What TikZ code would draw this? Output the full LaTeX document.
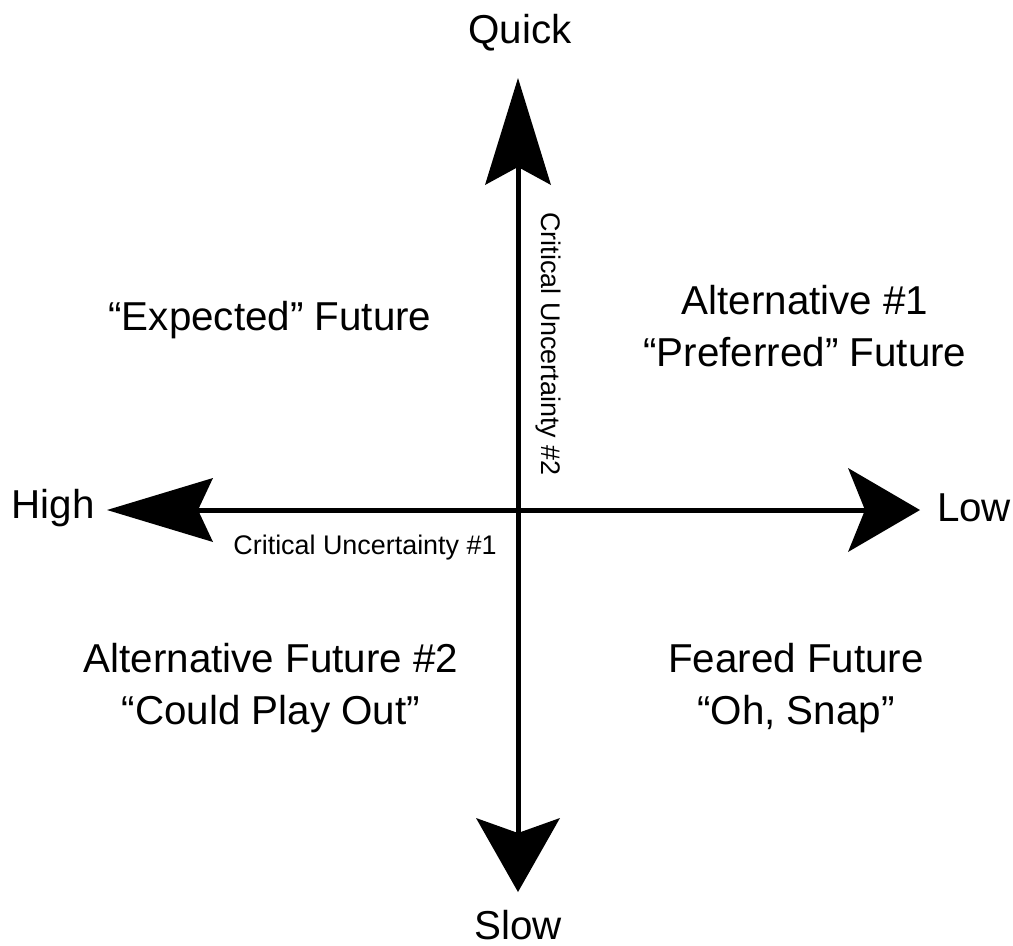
\documentclass[tikz,border=0pt]{standalone}
\usepackage{fontspec}
\setmainfont{Liberation Sans}
\usetikzlibrary{arrows.meta}
\begin{document}
\begin{tikzpicture}[x=1bp,y=-1bp,
  big/.style={font=\fontsize{40.5}{52}\selectfont, inner sep=0pt, align=center},
  small/.style={font=\fontsize{27}{32}\selectfont, inner sep=0pt},
  axis/.style={line width=5bp, black}]
\useasboundingbox (0,0) rectangle (1013,946);
\coordinate (utip) at (518,78);
\coordinate (dtip) at (518,892);
\coordinate (ltip) at (107,510);
\coordinate (rtip) at (920,510);
\draw[axis, {Stealth[length=74bp,width=84bp,inset=15bp,line width=0pt]}-{Stealth[length=107bp,width=66bp,inset=18bp,line width=0pt]}] (dtip) -- (utip);
\draw[axis, {Stealth[length=106bp,width=64bp,inset=15bp,line width=0pt]}-{Stealth[length=72bp,width=84bp,inset=17bp,line width=0pt]}] (ltip) -- (rtip);
\node[big] (quick) at (520,33) {Quick};
\node[big] (slow) at (518,925) {Slow};
\node[big] (high) at (53,508) {High};
\node[big] (low) at (974,508) {Low};
\node[big] (expected) at (270,320) {“Expected” Future};
\node[big] (alt1) at (805,326) {Alternative \#1\\“Preferred” Future};
\node[big] (alt2) at (271,688) {Alternative Future \#2\\“Could Play Out”};
\node[big] (feared) at (796,688) {Feared Future\\“Oh, Snap”};
\node[small] (cu1) at (365,548) {Critical Uncertainty \#1};
\node[small, rotate=-90] (cu2) at (548,344) {Critical Uncertainty \#2};
\end{tikzpicture}
\end{document}
